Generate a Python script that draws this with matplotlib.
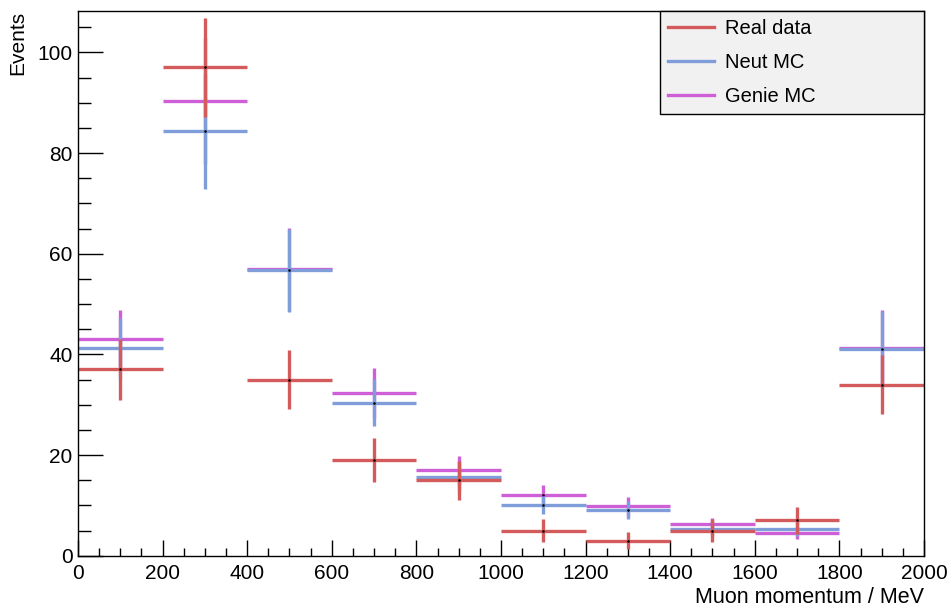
#!/usr/bin/env python3
"""
Muon momentum distribution: real data vs. Neut and Genie MC
"""

import numpy as np
import matplotlib
matplotlib.use("Agg")
import matplotlib.pyplot as plt
import matplotlib.ticker as mtick

bin_edges = [0, 200, 400, 600, 800, 1000, 1200, 1400, 1600, 1800, 2000]

real_counts = [37, 97, 35, 19, 15, 5, 3, 5, 7, 34]
real_errors = [6.1, 9.8, 5.9, 4.4, 3.9, 2.2, 1.7, 2.2, 2.6, 5.8]

neut_counts = [41.2, 84.3, 56.7, 30.4, 15.6, 10.1, 9.0, 5.3, 5.3, 41.1]
neut_errors = [6.0, 11.5, 8.2, 4.7, 3.0, 1.8, 1.8, 1.3, 1.3, 7.6]

genie_counts = [43.1, 90.4, 56.9, 32.3, 17.0, 12.0, 9.8, 6.3, 4.6, 41.2]
genie_errors = [5.7, 12.5, 8.2, 5.0, 2.9, 2.0, 1.9, 1.2, 1.2, 7.6]

series = [
    ("Genie MC", genie_counts, genie_errors, "#cf5fd6"),
    ("Neut MC", neut_counts, neut_errors, "#7f9dd9"),
    ("Real data", real_counts, real_errors, "#d35b5b"),
]

plt.rcParams.update({
    "font.family": ["Liberation Sans", "DejaVu Sans"],
    "font.size": 15,
})

edges = np.array(bin_edges, dtype=float)
centers = 0.5 * (edges[:-1] + edges[1:])
half_width = 0.5 * np.diff(edges)

fig = plt.figure(figsize=(9.51, 6.07), dpi=100)
ax = fig.add_axes([0.082, 0.0845, 0.8896, 0.898])

handles = {}
for label, counts, errors, color in series:
    ax.errorbar(centers, counts, xerr=half_width, yerr=errors,
                fmt="none", ecolor=color, elinewidth=2.4, capsize=0)
    ax.plot(centers, counts, linestyle="none", marker="s", markersize=0.8,
            color="black")
    handles[label] = plt.Line2D([], [], color=color, lw=2.4)

ax.set_xlim(0, 2000)
ax.set_ylim(0, 108.3)

ax.xaxis.set_major_locator(mtick.MultipleLocator(200))
ax.xaxis.set_minor_locator(mtick.MultipleLocator(50))
ax.yaxis.set_major_locator(mtick.MultipleLocator(20))
ax.yaxis.set_minor_locator(mtick.MultipleLocator(5))

ax.tick_params(axis="both", which="both", direction="in", top=False,
               right=False, width=1.0, labelsize=15)
ax.tick_params(axis="y", which="major", length=18, pad=4)
ax.tick_params(axis="y", which="minor", length=9)
ax.tick_params(axis="x", which="major", length=11.5, pad=6)
ax.tick_params(axis="x", which="minor", length=5.8)
for sp in ax.spines.values():
    sp.set_linewidth(1.0)

ax.set_xlabel("Muon momentum / MeV", fontsize=15.5, loc="right", labelpad=3)
ax.set_ylabel("Events", fontsize=15, loc="top", labelpad=7)

order = ["Real data", "Neut MC", "Genie MC"]
leg = ax.legend([handles[k] for k in order], order,
                loc="upper left", bbox_to_anchor=(0.688, 0.0, 0.312, 1.0),
                mode="expand", borderaxespad=0, fancybox=False, framealpha=1,
                edgecolor="black", facecolor="#f1f1f1", fontsize=14.5,
                handlelength=2.3, handletextpad=0.55, labelspacing=0.75,
                borderpad=0.4)
leg.get_frame().set_linewidth(1.0)

fig.savefig("out.png", dpi=100)
